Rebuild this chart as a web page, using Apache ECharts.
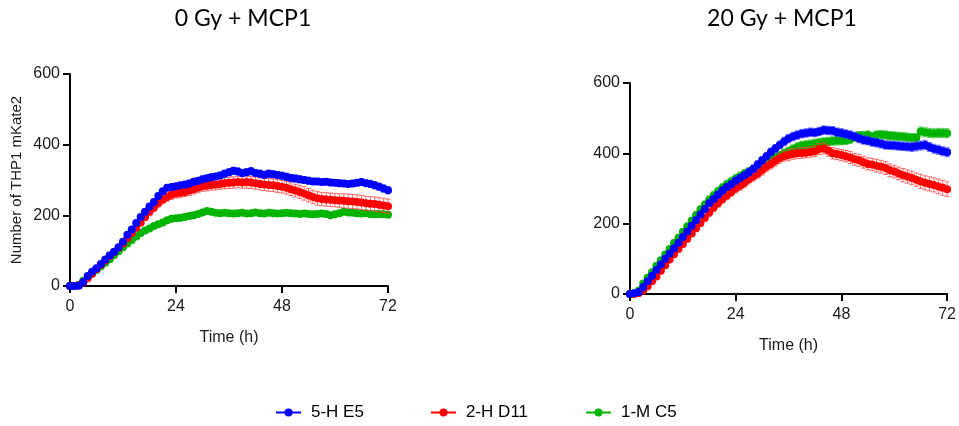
<!DOCTYPE html>
<html>
<head>
<meta charset="utf-8">
<script src="https://cdn.jsdelivr.net/npm/echarts@6/dist/echarts.min.js"></script>
<style>html,body{margin:0;padding:0;background:#fff}#c{width:959px;height:426px}</style>
</head>
<body>
<div id="c"></div>
<script>
// Time points (h)
var hours = [0,1,2,3,4,5,6,7,8,9,10,11,12,13,14,15,16,17,18,19,20,21,22,23,24,25,26,27,28,29,30,31,32,33,34,35,36,37,38,39,40,41,42,43,44,45,46,47,48,49,50,51,52,53,54,55,56,57,58,59,60,61,62,63,64,65,66,67,68,69,70,71,72];

var seriesNames = ['5-H E5', '2-H D11', '1-M C5'];
var panelTitles = ['0 Gy + MCP1', '20 Gy + MCP1'];
var xTicks = [0, 24, 48, 72];
var yTicks = [0, 200, 400, 600];

// 0 Gy + MCP1
var gy0_E5 = [0,0,1,11,28,40,50,62,75,87, 97,110,125,145,160,178,195,210,225,238, 255,268,278,280,282,285,287,290,295,298, 302,305,308,310,313,318,322,326,324,320, 322,325,320,318,315,318,316,314,312,309, 306,304,302,300,298,296,296,294,295,293, 292,291,290,289,290,292,294,291,289,285, 281,276,271];
var gy0_E5_err = [0,0,1,2,3,3,4,4,5,5, 5,6,6,6,7,7,7,8,8,8, 8,8,8,8,8,8,8,9,9,9, 9,9,9,9,9,10,10,10,10,10, 10,10,10,10,10,10,10,10,10,10, 10,10,10,10,10,9,9,9,9,9, 9,9,9,9,9,9,9,9,10,10, 10,10,10];
var gy0_D11 = [0,0,2,10,22,35,48,60,72,85, 96,108,120,135,150,165,180,195,210,222, 235,245,252,258,262,264,266,270,274,278, 282,284,286,287,289,291,292,293,294,293, 294,293,291,289,287,286,285,283,281,278, 274,270,266,262,257,252,248,246,245,244, 243,242,241,240,239,238,236,234,233,232, 230,228,226];
var gy0_D11_err = [0,0,1,2,3,4,4,5,6,6, 7,7,8,8,9,9,10,10,11,11, 12,12,12,13,13,13,13,14,14,14, 14,15,15,15,15,16,16,16,16,16, 17,17,17,17,17,18,18,18,18,18, 18,18,18,19,19,19,19,19,19,19, 19,19,20,20,20,20,20,20,20,20, 20,20,20];
var gy0_C5 = [0,0,3,15,25,35,45,56,66,76, 88,98,110,120,130,140,150,157,163,170, 175,180,186,190,192,193,195,198,200,204, 208,212,210,207,206,207,206,205,206,207, 205,206,208,206,205,207,206,205,206,207, 206,205,204,205,204,203,204,205,204,200, 203,206,210,208,207,206,205,206,204,203, 204,203,202];
var gy0_C5_err = [0,0,1,1,2,2,3,3,3,4, 4,4,4,5,5,5,5,5,5,5, 5,5,5,5,5,5,5,5,6,6, 6,6,6,6,6,6,6,6,6,6, 6,6,6,6,6,6,6,6,6,6, 6,6,6,6,6,6,6,6,6,6, 6,6,6,6,6,6,6,6,7,7, 7,7,7];

// 20 Gy + MCP1
var gy20_E5 = [0,2,6,20,36,52,68,84,100,115, 130,146,162,178,194,210,226,242,258,270, 282,294,304,312,322,330,338,346,356,368, 380,392,404,414,424,434,442,448,452,456, 458,460,459,462,466,465,464,460,458,455, 452,448,442,438,436,432,430,427,424,423, 422,421,420,419,418,420,422,424,418,413, 410,406,403];
var gy20_E5_err = [0,1,2,3,4,5,5,6,6,7, 7,7,8,8,8,9,9,9,9,10, 10,10,10,10,10,10,10,11,11,11, 11,11,11,11,11,12,12,12,12,12, 12,12,12,12,12,12,12,12,12,12, 12,12,12,12,12,12,12,12,12,12, 12,12,12,12,13,13,13,13,13,13, 13,13,13];
var gy20_D11 = [0,0,3,10,22,36,50,66,82,98, 113,128,142,157,172,187,202,217,232,246, 258,270,280,290,300,308,316,326,334,342, 352,362,370,378,386,392,395,398,400,401, 402,404,406,412,414,408,400,398,395,392, 388,383,380,375,370,368,365,362,358,352, 348,343,338,334,330,325,320,316,313,310, 306,302,298];
var gy20_D11_err = [0,1,2,3,4,5,5,6,7,7, 8,8,9,9,9,10,10,10,11,11, 11,12,12,12,12,13,13,13,13,13, 14,14,14,14,14,14,15,15,15,15, 15,15,15,16,16,16,16,16,16,16, 17,17,17,17,17,17,18,18,18,18, 18,18,19,19,19,19,20,20,20,20, 21,21,21];
var gy20_C5 = [0,2,10,30,46,62,80,96,112,128, 145,160,176,192,208,224,240,254,268,280, 292,302,312,320,328,335,342,348,354,360, 368,376,382,388,394,400,406,412,418,422, 424,426,428,430,432,434,435,436,436,437, 440,446,450,450,452,448,452,453,452,450, 449,448,447,446,444,444,462,460,458,457, 458,458,457];
var gy20_C5_err = [0,1,2,3,4,5,6,7,8,8, 9,9,10,10,10,11,11,11,11,12, 12,12,12,12,12,12,12,12,12,12, 12,12,12,12,12,12,12,12,12,12, 12,12,12,12,12,12,12,12,12,12, 12,12,12,12,12,12,12,12,12,12, 12,12,12,12,12,12,13,13,13,13, 13,13,13];

var colors = {'5-H E5': '#0000FF', '2-H D11': '#FF0000', '1-M C5': '#00B400'};
var errColors = {'5-H E5': 'rgba(60,60,255,0.75)', '2-H D11': 'rgba(255,60,60,0.75)', '1-M C5': 'rgba(40,190,40,0.75)'};

var panels = [
  {vals: {'5-H E5': gy0_E5, '2-H D11': gy0_D11, '1-M C5': gy0_C5},
   errs: {'5-H E5': gy0_E5_err, '2-H D11': gy0_D11_err, '1-M C5': gy0_C5_err}},
  {vals: {'5-H E5': gy20_E5, '2-H D11': gy20_D11, '1-M C5': gy20_C5},
   errs: {'5-H E5': gy20_E5_err, '2-H D11': gy20_D11_err, '1-M C5': gy20_C5_err}}
];

function errRenderer(col) {
  return function (params, api) {
    var t = api.value(0), v = api.value(1), e = api.value(2);
    var top = api.coord([t, v + e]);
    var bot = api.coord([t, v - e]);
    var w = 2.5;
    var st = {stroke: col, lineWidth: 1};
    return {type: 'group', children: [
      {type: 'line', shape: {x1: top[0], y1: top[1], x2: bot[0], y2: bot[1]}, style: st},
      {type: 'line', shape: {x1: top[0] - w, y1: top[1], x2: top[0] + w, y2: top[1]}, style: st},
      {type: 'line', shape: {x1: bot[0] - w, y1: bot[1], x2: bot[0] + w, y2: bot[1]}, style: st}
    ]};
  };
}

var axisFont = {fontFamily: 'Arial, "Liberation Sans", sans-serif', fontSize: 16, color: '#1a1a1a'};

var grids = [
  {left: 70, top: 74, width: 318, height: 212},
  {left: 630, top: 83, width: 318, height: 211}
];

var xAxes = [], yAxes = [], series = [];
var drawOrder = ['1-M C5', '2-H D11', '5-H E5'];
panels.forEach(function (p, gi) {
  xAxes.push({
    type: 'value', gridIndex: gi, min: xTicks[0], max: xTicks[xTicks.length - 1], interval: 24,
    name: 'Time (h)', nameLocation: 'middle', nameGap: 44,
    nameTextStyle: {fontFamily: 'Arial, "Liberation Sans", sans-serif', fontSize: 16, color: '#1a1a1a'},
    axisLine: {show: true, onZero: false, lineStyle: {color: '#000', width: 2}},
    axisTick: {show: true, length: 7, inside: false, lineStyle: {color: '#000', width: 2}},
    axisLabel: Object.assign({margin: 13}, axisFont),
    splitLine: {show: false}
  });
  yAxes.push({
    type: 'value', gridIndex: gi, min: yTicks[0], max: yTicks[yTicks.length - 1], interval: 200,
    name: gi === 0 ? 'Number of THP1 mKate2' : '', nameLocation: 'middle', nameGap: 46,
    nameTextStyle: {fontFamily: 'Arial, "Liberation Sans", sans-serif', fontSize: 15, color: '#1a1a1a'},
    axisLine: {show: true, lineStyle: {color: '#000', width: 2}},
    axisTick: {show: true, length: 7, inside: false, lineStyle: {color: '#000', width: 2}},
    axisLabel: Object.assign({margin: 10}, axisFont),
    splitLine: {show: false}
  });
  drawOrder.forEach(function (name, si) {
    var vals = p.vals[name], errs = p.errs[name];
    series.push({
      type: 'custom', name: name + '_err', xAxisIndex: gi, yAxisIndex: gi,
      renderItem: errRenderer(errColors[name]), silent: true, z: 2 + si * 2,
      data: hours.map(function (h, i) { return [h, vals[i], errs[i]]; }),
      encode: {x: 0, y: 1}, clip: false
    });
    series.push({
      type: 'line', name: name, xAxisIndex: gi, yAxisIndex: gi,
      data: hours.map(function (h, i) { return [h, vals[i]]; }),
      symbol: 'circle', symbolSize: 8, showSymbol: true, z: 3 + si * 2,
      itemStyle: {color: colors[name]},
      lineStyle: {color: colors[name], width: 1.5},
      animation: false
    });
  });
});

var legendLefts = [270, 425, 580];
var legends = seriesNames.map(function (n, i) {
  return {
    data: [n], left: legendLefts[i], top: 399, itemWidth: 25, itemHeight: 10,
    textStyle: {fontFamily: 'Arial, "Liberation Sans", sans-serif', fontSize: 17, color: '#000', padding: [0, 0, 0, 5]}
  };
});

var titleStyle = {fontFamily: 'Lato, "Open Sans", sans-serif', fontSize: 23, fontWeight: 'normal', color: '#000'};
var chart = echarts.init(document.getElementById('c'), null, {renderer: 'canvas'});
chart.setOption({
  animation: false,
  title: [
    {text: panelTitles[0], left: 243, top: 7, textAlign: 'center', padding: 0, textStyle: titleStyle},
    {text: panelTitles[1], left: 782, top: 7, textAlign: 'center', padding: 0, textStyle: titleStyle}
  ],
  legend: legends,
  grid: grids,
  xAxis: xAxes,
  yAxis: yAxes,
  series: series
});
</script>
</body>
</html>
